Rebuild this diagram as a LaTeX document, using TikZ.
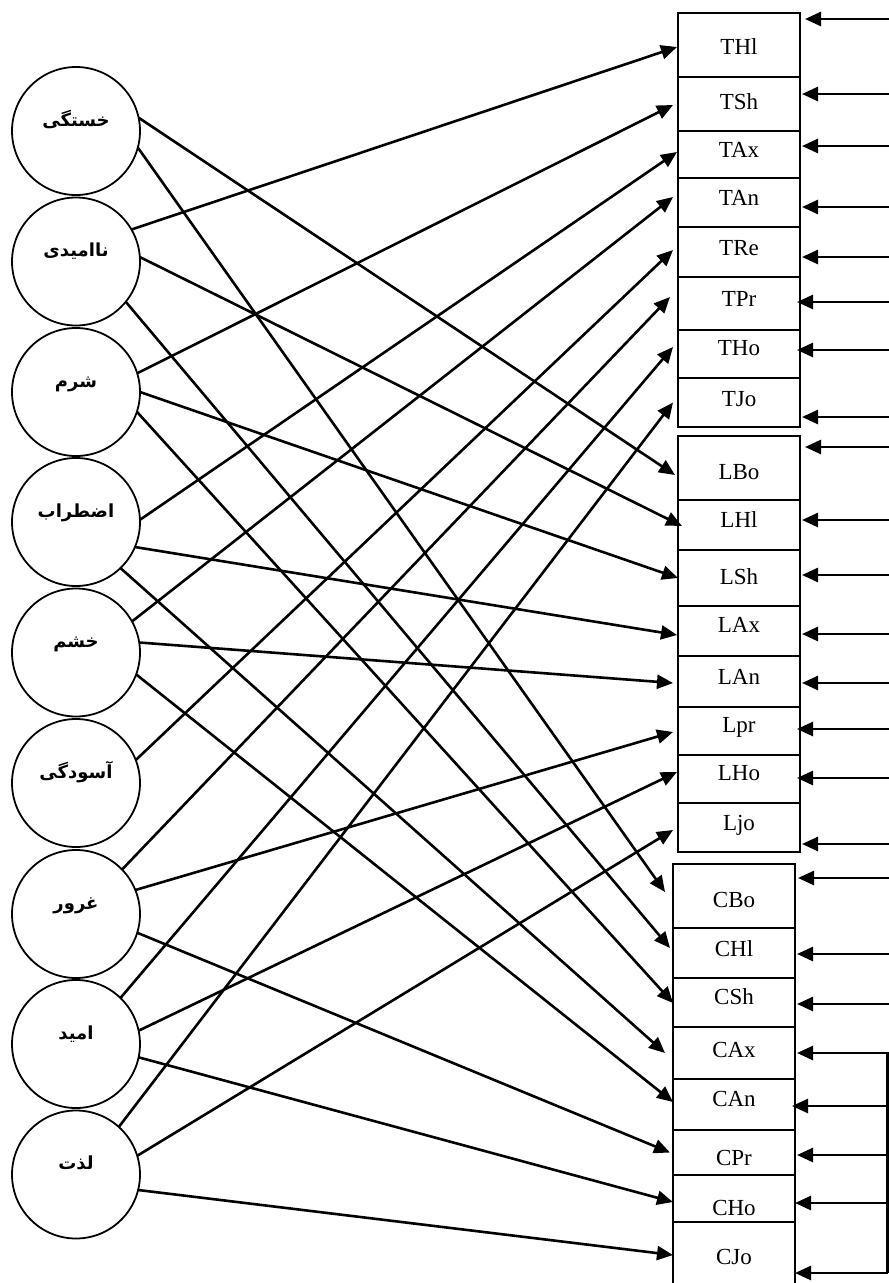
\documentclass[tikz,border=0pt]{standalone}
\usepackage{fontspec}
\setmainfont{Liberation Serif}
\newfontfamily\fa[Script=Arabic]{DejaVu Sans}
\TeXXeTstate=1
\usetikzlibrary{arrows.meta}
\begin{document}
\begin{tikzpicture}[x=1pt,y=-1pt,
  emo/.style={circle,draw,line width=1.8pt,minimum size=128pt,inner sep=0pt,outer sep=0pt,font=\fa\bfseries\fontsize{18}{18}\selectfont},
  bx/.style={rectangle,draw,line width=1.7pt,minimum width=122pt,inner sep=0pt,outer sep=0pt,font=\fontsize{23}{23}\selectfont},
  arr/.style={line width=2.6pt,-{Triangle[length=16pt,width=14pt]}},
  plain/.style={line width=2.4pt}]
\useasboundingbox (0,0) rectangle (889,1283);
% emotion circles
\foreach \n/\y/\t in {c1/131/خستگی, c2/261.5/ناامیدی, c3/392/شرم, c4/522/اضطراب, c5/652.5/خشم, c6/783/آسودگی, c7/914/غرور, c8/1044/امید, c9/1174.5/لذت}
  \node[emo] (\n) at (76,\y) {\smash{\raisebox{5pt}{\beginR\t\endR}}};
% boxes
\foreach \n/\x/\y/\h/\o in {THl/739/45/64/2, TSh/739/104/54/-2, TAx/739/154.5/47/-4.5, TAn/739/202.5/49/-4.5, TRe/739/252/50/-4, TPr/739/303.5/53/-5, THo/739/354/48/-6, TJo/739/402.5/49/-4,
  LBo/739/468/64/4, LHl/739/525/50/-5, LSh/739/578/56/-1, LAx/739/631/50/-6, LAn/739/681.5/51/-4.5, Lpr/739/731/48/-6, LHo/739/779/48/-6, Ljo/739/827.5/49/-4.5,
  CBo/734/896/64/4, CHl/734/953/50/-4, CSh/734/1002.5/49/-5.5, CAx/734/1053/52/-3, CAn/734/1104.5/51/-5.5, CPr/734/1152.5/45/5.5, CHo/734/1198.5/47/9.5, CJo/734/1261/78/-4}
{
  \pgfmathsetmacro{\r}{-\o-7.6}
  \node[bx,minimum height=\h pt] (\n) at (\x,\y) {\smash{\raisebox{\r pt}{\n}}};
}
% tip points
\foreach \n/\dx/\dy in {THl/-1/2, TSh/-5/1, TAx/-1/-2.5, TAn/-5/-5.5, TRe/-5/-2, TPr/-8/-6.5, THo/-5/-7, TJo/-5/0, LBo/-3/7, LHl/4/1, LSh/0/0, LAx/-1/4, LAn/-5/1.5, Lpr/-5/1, LHo/-1/-7, Ljo/-5/2.5, CBo/-8/-4, CHl/-3/-5, CSh/0/0.5, CAx/-8/0, CAn/0/-2.5, CPr/-3/0, CHo/0/3.5, CJo/0/-6}
  \coordinate (l\n) at ([shift={(\dx,\dy)}]\n.west);
\foreach \n/\dx/\dy in {THl/5/-26, TSh/2/-10, TAx/2/-8.5, TAn/2/4.5, TRe/2/5, TPr/-3/-1.5, THo/-3/-4, TJo/2/14.5, LBo/5/-21, LHl/2/-5, LSh/2/-3, LAx/2/3, LAn/2/1.5, Lpr/-3/-2, LHo/-3/-1, Ljo/2/16.5, CBo/3/-18, CHl/2/1, CSh/2/1.5, CAx/2/0, CAn/-3/1.5, CPr/2/2.5, CHo/0/4.5, CJo/0/12}
  \coordinate (r\n) at ([shift={(\dx,\dy)}]\n.east);
\coordinate (E) at (895,0);
\coordinate (V) at (887.5,0);
% connectors from circles
\foreach \a/\ang/\b in {c1/12/LBo, c1/-15/CBo, c2/30/THl, c2/4/LHl, c2/-39/CHl, c3/17/TSh, c3/0/LSh, c3/-18/CSh, c4/2/TAx, c4/-23/LAx, c4/-46/CAx, c5/29/TAn, c5/9/LAn, c5/-20/CAn, c6/21/TRe, c7/44/TPr, c7/22/Lpr, c7/-17/CPr, c8/46/THo, c8/12/LHo, c8/-12/CHo, c9/48/TJo, c9/17/Ljo, c9/-14/CJo}
  \draw[arr] (\a.\ang) -- (l\b);
% incoming arrows from the right
\foreach \n in {THl, TSh, TAx, TAn, TRe, TPr, THo, TJo, LBo, LHl, LSh, LAx, LAn, Lpr, LHo, Ljo, CBo, CHl, CSh, CAx}
  \draw[arr] (r\n -| E) -- (r\n);
\foreach \n in {CAn, CPr, CHo, CJo}
  \draw[arr] (r\n -| V) -- (r\n);
\draw[plain] (rCAx -| V) -- (rCJo -| V);
\end{tikzpicture}
\end{document}
